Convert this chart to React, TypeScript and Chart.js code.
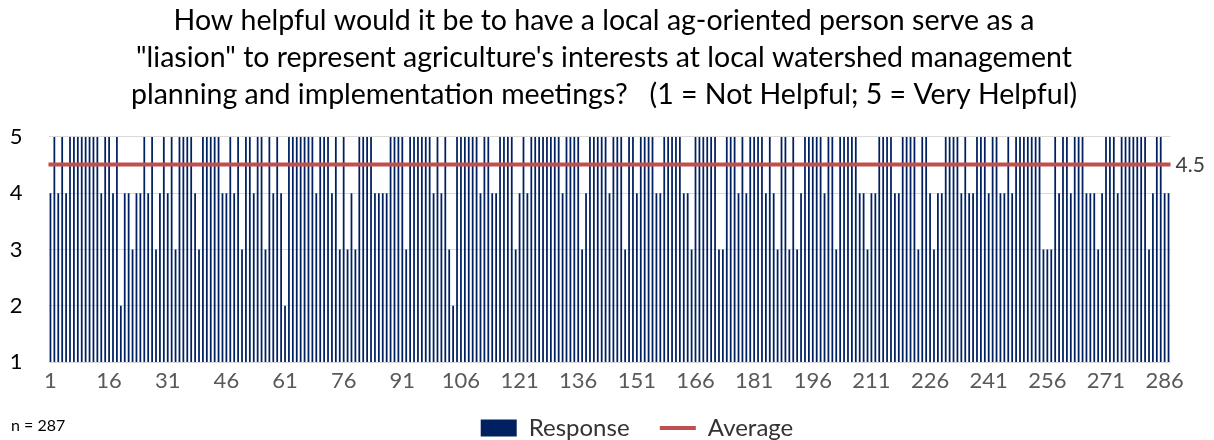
import { useEffect, useRef } from "react";
import { Chart, registerables } from "chart.js";

Chart.register(...registerables);

const titleLines = [
  "How helpful would it be to have a local ag-oriented person serve as a",
  "\"liasion\" to represent agriculture's interests at local watershed management",
  "planning and implementation meetings?   (1 = Not Helpful; 5 = Very Helpful)",
];

// Individual responses (1 = Not Helpful ... 5 = Very Helpful), respondents 1..287
const responses = [
  4, 5, 4, 5, 4, 5, 5, 5, 5, 5, 5, 5, 5, 4, 5, 5, 4, 5, 2, 4, 4, 3, 4, 4,
  5, 4, 5, 3, 4, 5, 4, 5, 3, 5, 5, 5, 5, 4, 3, 5, 5, 5, 5, 5, 4, 4, 5, 4,
  5, 3, 5, 5, 4, 5, 5, 3, 5, 4, 5, 4, 2, 5, 5, 5, 5, 5, 5, 5, 4, 5, 5, 5,
  4, 5, 3, 5, 3, 4, 3, 5, 5, 5, 5, 4, 4, 4, 4, 5, 5, 5, 5, 3, 5, 5, 5, 5,
  5, 5, 4, 5, 4, 5, 3, 2, 5, 5, 5, 5, 5, 5, 4, 5, 5, 4, 4, 5, 5, 5, 5, 3,
  4, 5, 4, 5, 5, 5, 5, 5, 5, 5, 5, 4, 5, 5, 5, 5, 3, 4, 5, 5, 5, 5, 5, 4,
  5, 5, 5, 3, 5, 5, 4, 5, 5, 5, 5, 4, 4, 5, 5, 5, 5, 5, 4, 4, 3, 5, 5, 5,
  5, 5, 5, 3, 3, 5, 5, 5, 4, 5, 4, 5, 5, 5, 5, 4, 5, 4, 3, 5, 5, 3, 5, 3,
  4, 5, 5, 5, 5, 5, 4, 5, 5, 3, 5, 5, 5, 5, 5, 4, 4, 3, 4, 4, 5, 5, 5, 5,
  4, 4, 5, 5, 5, 5, 3, 5, 5, 4, 3, 4, 4, 5, 5, 5, 5, 4, 5, 4, 4, 5, 5, 5,
  4, 5, 5, 4, 4, 5, 4, 5, 5, 5, 5, 5, 5, 5, 3, 3, 3, 5, 4, 5, 5, 4, 5, 5,
  5, 4, 4, 4, 3, 4, 5, 5, 5, 4, 5, 5, 5, 5, 5, 5, 5, 3, 4, 5, 5, 4, 4,
];

const respondentLabels = responses.map((_, i) => String(i + 1));
const averageValue = 4.51;
const averageLabel = "4.5";
const xLabelStep = 15;
const yMin = 1;
const yMax = 5;
const sampleNote = "n = 287";
const seriesNames = ["Response", "Average"];

const averageSeries = respondentLabels.map(() => averageValue);

const NAVY = "#002060";
const RED = "#C0504D";
const FONT = "Lato";

const avgLabelPlugin = {
  id: "avgLabel",
  afterDatasetsDraw(chart: any) {
    const { ctx, chartArea, scales } = chart;
    const y = scales.y.getPixelForValue(averageValue);
    ctx.save();
    ctx.font = `21px ${FONT}`;
    ctx.fillStyle = "#404040";
    ctx.textAlign = "left";
    ctx.textBaseline = "middle";
    ctx.fillText(averageLabel, chartArea.right + 5, y + 1);
    ctx.restore();
  },
};

export default function App() {
  const canvasRef = useRef<HTMLCanvasElement | null>(null);

  useEffect(() => {
    if (!canvasRef.current) return;
    const defaultGen = (Chart.defaults.plugins.legend.labels as any).generateLabels;
    const chart = new Chart(canvasRef.current, {
      type: "bar",
      data: {
        labels: respondentLabels,
        datasets: [
          {
            type: "bar",
            label: seriesNames[0],
            data: responses,
            backgroundColor: NAVY,
            borderWidth: 0,
            categoryPercentage: 1,
            barPercentage: 0.45,
            pointStyle: "rect",
            order: 2,
          } as any,
          {
            type: "line",
            label: seriesNames[1],
            data: averageSeries,
            borderColor: RED,
            borderWidth: 4,
            borderCapStyle: "square",
            pointRadius: 0,
            pointHoverRadius: 0,
            pointStyle: "line",
            pointBorderColor: RED,
            pointBorderWidth: 4,
            pointBackgroundColor: RED,
            order: 1,
          } as any,
        ],
      },
      options: {
        animation: false,
        responsive: true,
        maintainAspectRatio: false,
        layout: { padding: { left: 0, right: 6, top: 0, bottom: -10 } },
        plugins: {
          title: {
            display: true,
            text: titleLines,
            color: "#000000",
            font: { family: FONT, size: 28.5, weight: "normal", lineHeight: 1.3 },
            padding: { top: 2, bottom: 23.8 },
          },
          legend: {
            position: "bottom",
            labels: {
              usePointStyle: true,
              pointStyleWidth: 36,
              boxHeight: 17,
              padding: 18,
              color: "#333333",
              font: { family: FONT, size: 24 },
              sort: (a: any, b: any) => a.datasetIndex - b.datasetIndex,
              generateLabels: (c: any) => {
                const items = defaultGen(c);
                items.forEach((it: any) => {
                  if (it.datasetIndex === 0) it.text = it.text + "  ";
                });
                // invisible spacer item that shifts the legend row to the right
                items.unshift({
                  text: "",
                  fillStyle: "rgba(0,0,0,0)",
                  strokeStyle: "rgba(0,0,0,0)",
                  fontColor: "rgba(0,0,0,0)",
                  lineWidth: 0,
                  pointStyle: "rect",
                  hidden: false,
                  datasetIndex: -1,
                });
                return items;
              },
            },
          },
          tooltip: { enabled: false },
        },
        scales: {
          x: {
            grid: { display: false, drawTicks: false },
            border: { display: false },
            afterFit: (scale: any) => {
              scale.height = 36;
            },
            ticks: {
              autoSkip: false,
              maxRotation: 0,
              minRotation: 0,
              padding: 6,
              color: "#595959",
              font: { family: FONT, size: 22 },
              callback: (_v: any, i: number) =>
                i % xLabelStep === 0 ? respondentLabels[i] : "",
            },
          },
          y: {
            min: yMin,
            max: yMax,
            afterFit: (scale: any) => {
              scale.width = 48.5;
            },
            grid: { color: "#D9D9D9", lineWidth: 1, drawTicks: false },
            border: { display: false },
            ticks: {
              stepSize: 1,
              padding: 26,
              color: "#000000",
              font: { family: FONT, size: 22 },
            },
          },
          yRight: {
            position: "right",
            min: yMin,
            max: yMax,
            afterFit: (scale: any) => {
              scale.width = 37.5;
            },
            grid: { display: false, drawTicks: false },
            border: { display: false },
            ticks: { display: false },
          },
        },
      },
      plugins: [avgLabelPlugin],
    });
    return () => chart.destroy();
  }, []);

  return (
    <div
      style={{
        position: "absolute",
        left: 0,
        top: 0,
        width: 1214,
        height: 440,
        background: "#ffffff",
      }}
    >
      <canvas ref={canvasRef} />
      <div
        style={{
          position: "absolute",
          left: 11,
          top: 415,
          fontFamily: FONT,
          fontSize: 16,
          color: "#000000",
        }}
      >
        {sampleNote}
      </div>
    </div>
  );
}
